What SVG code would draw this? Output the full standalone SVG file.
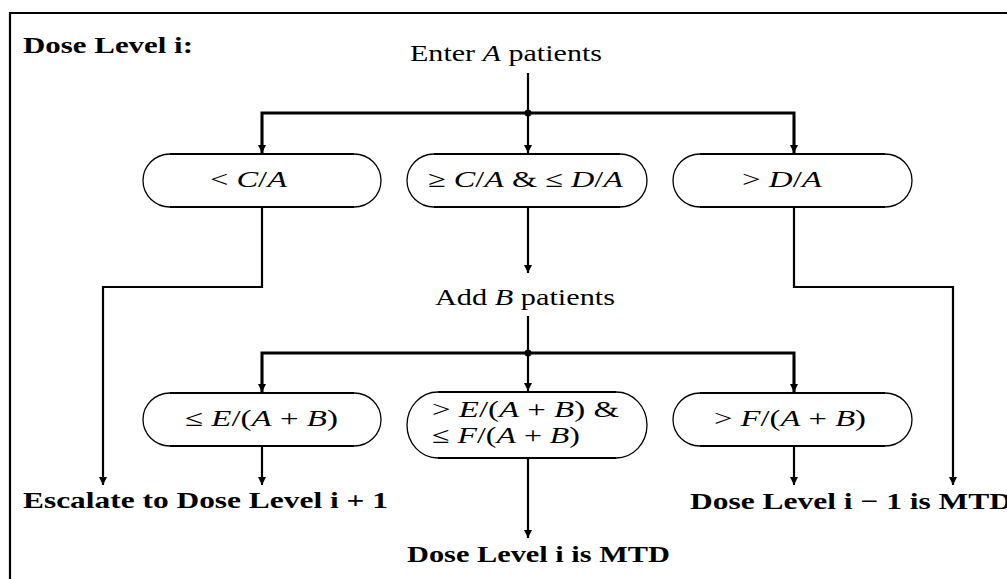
<svg xmlns="http://www.w3.org/2000/svg" width="1007" height="579" viewBox="0 0 1007 579">
<style>
  .t { font-family: "Liberation Serif", "Times New Roman", serif; font-size: 23px; fill: #000; }
  .b { font-weight: bold; }
  .i { font-style: italic; }
  .frame { stroke: #000; stroke-width: 2.2; fill: none; }
  .flat { stroke: #000; stroke-width: 2.2; fill: none; }
  .arc { stroke: #000; stroke-width: 1.3; fill: none; }
  .line { stroke: #000; stroke-width: 2.2; fill: none; }
  .bus { stroke: #000; stroke-width: 3; fill: none; }
</style>
<defs>
  <marker id="ah" viewBox="0 0 8 12" refX="8" refY="6" markerWidth="8" markerHeight="12" markerUnits="userSpaceOnUse" orient="auto">
    <path d="M0,2 L8,6 L0,10 Z" fill="#000"/>
  </marker>
</defs>
<rect width="1007" height="579" fill="#fff"/>
<path class="frame" d="M10,579 V13 H1007"/>

<g id="title"><text class="t b" x="23" y="53" textLength="170" lengthAdjust="spacingAndGlyphs">Dose Level i:</text></g>

<g id="enter"><text class="t" x="410" y="61" textLength="192" lengthAdjust="spacingAndGlyphs">Enter <tspan class="i">A</tspan> patients</text></g>
<g id="addb"><text class="t" x="435" y="305" textLength="180" lengthAdjust="spacingAndGlyphs">Add <tspan class="i">B</tspan> patients</text></g>

<g id="connectors">
  <line class="line" x1="528" y1="73" x2="528" y2="113"/>
  <path class="bus" d="M262,154 V113 H794 V154"/>
  <circle cx="528" cy="113" r="3.5" fill="#000"/>
  <line class="line" x1="262" y1="120" x2="262" y2="153" marker-end="url(#ah)"/>
  <line class="line" x1="528" y1="113" x2="528" y2="153" marker-end="url(#ah)"/>
  <line class="line" x1="794" y1="120" x2="794" y2="153" marker-end="url(#ah)"/>
  <path class="line" d="M262,207 V287 H103 V485" marker-end="url(#ah)"/>
  <path class="line" d="M794,207 V287 H953 V485" marker-end="url(#ah)"/>
  <line class="line" x1="528" y1="207" x2="528" y2="273" marker-end="url(#ah)"/>
  <line class="line" x1="528" y1="316" x2="528" y2="353"/>
  <path class="bus" d="M262,393 V353 H794 V393"/>
  <circle cx="528" cy="353" r="3.5" fill="#000"/>
  <line class="line" x1="262" y1="360" x2="262" y2="392" marker-end="url(#ah)"/>
  <line class="line" x1="528" y1="353" x2="528" y2="391" marker-end="url(#ah)"/>
  <line class="line" x1="794" y1="360" x2="794" y2="392" marker-end="url(#ah)"/>
  <line class="line" x1="262" y1="447" x2="262" y2="485" marker-end="url(#ah)"/>
  <line class="line" x1="794" y1="447" x2="794" y2="485" marker-end="url(#ah)"/>
  <line class="line" x1="528" y1="458" x2="528" y2="538" marker-end="url(#ah)"/>
</g>

<g id="r1a">
  <path class="flat" d="M170,154 H354 M170,207 H354"/>
  <path class="arc" d="M170,154 A27,26.5 0 0 0 170,207 M354,154 A27,26.5 0 0 1 354,207"/>
  <text class="t" x="210" y="187" textLength="77" lengthAdjust="spacingAndGlyphs">&lt; <tspan class="i">C</tspan>/<tspan class="i">A</tspan></text>
</g>
<g id="r1b">
  <path class="flat" d="M434,154 H620 M434,207 H620"/>
  <path class="arc" d="M434,154 A27,26.5 0 0 0 434,207 M620,154 A27,26.5 0 0 1 620,207"/>
  <text class="t" x="428" y="187" textLength="195" lengthAdjust="spacingAndGlyphs">≥ <tspan class="i">C</tspan>/<tspan class="i">A</tspan> &amp; ≤ <tspan class="i">D</tspan>/<tspan class="i">A</tspan></text>
</g>
<g id="r1c">
  <path class="flat" d="M700,154 H885 M700,207 H885"/>
  <path class="arc" d="M700,154 A27,26.5 0 0 0 700,207 M885,154 A27,26.5 0 0 1 885,207"/>
  <text class="t" x="742" y="187" textLength="80" lengthAdjust="spacingAndGlyphs">&gt; <tspan class="i">D</tspan>/<tspan class="i">A</tspan></text>
</g>

<g id="r2a">
  <path class="flat" d="M170,393 H354 M170,446 H354"/>
  <path class="arc" d="M170,393 A27,26.5 0 0 0 170,446 M354,393 A27,26.5 0 0 1 354,446"/>
  <text class="t" x="185" y="426" textLength="153" lengthAdjust="spacingAndGlyphs">≤ <tspan class="i">E</tspan>/(<tspan class="i">A</tspan> + <tspan class="i">B</tspan>)</text>
</g>
<g id="r2b">
  <path class="flat" d="M438,392 H616 M438,458 H616"/>
  <path class="arc" d="M438,392 A31,33 0 0 0 438,458 M616,392 A31,33 0 0 1 616,458"/>
  <text class="t" x="432" y="417" textLength="187" lengthAdjust="spacingAndGlyphs">&gt; <tspan class="i">E</tspan>/(<tspan class="i">A</tspan> + <tspan class="i">B</tspan>) &amp;</text>
  <text class="t" x="432" y="443" textLength="148" lengthAdjust="spacingAndGlyphs">≤ <tspan class="i">F</tspan>/(<tspan class="i">A</tspan> + <tspan class="i">B</tspan>)</text>
</g>
<g id="r2c">
  <path class="flat" d="M700,393 H885 M700,446 H885"/>
  <path class="arc" d="M700,393 A27,26.5 0 0 0 700,446 M885,393 A27,26.5 0 0 1 885,446"/>
  <text class="t" x="714" y="426" textLength="152" lengthAdjust="spacingAndGlyphs">&gt; <tspan class="i">F</tspan>/(<tspan class="i">A</tspan> + <tspan class="i">B</tspan>)</text>
</g>

<g id="escalate"><text class="t b" x="23" y="508" textLength="365" lengthAdjust="spacingAndGlyphs">Escalate to Dose Level i + 1</text></g>
<g id="mtdminus"><text class="t b" x="690" y="509" textLength="322" lengthAdjust="spacingAndGlyphs">Dose Level i − 1 is MTD</text></g>
<g id="mtd"><text class="t b" x="407" y="562" textLength="263" lengthAdjust="spacingAndGlyphs">Dose Level i is MTD</text></g>
</svg>
